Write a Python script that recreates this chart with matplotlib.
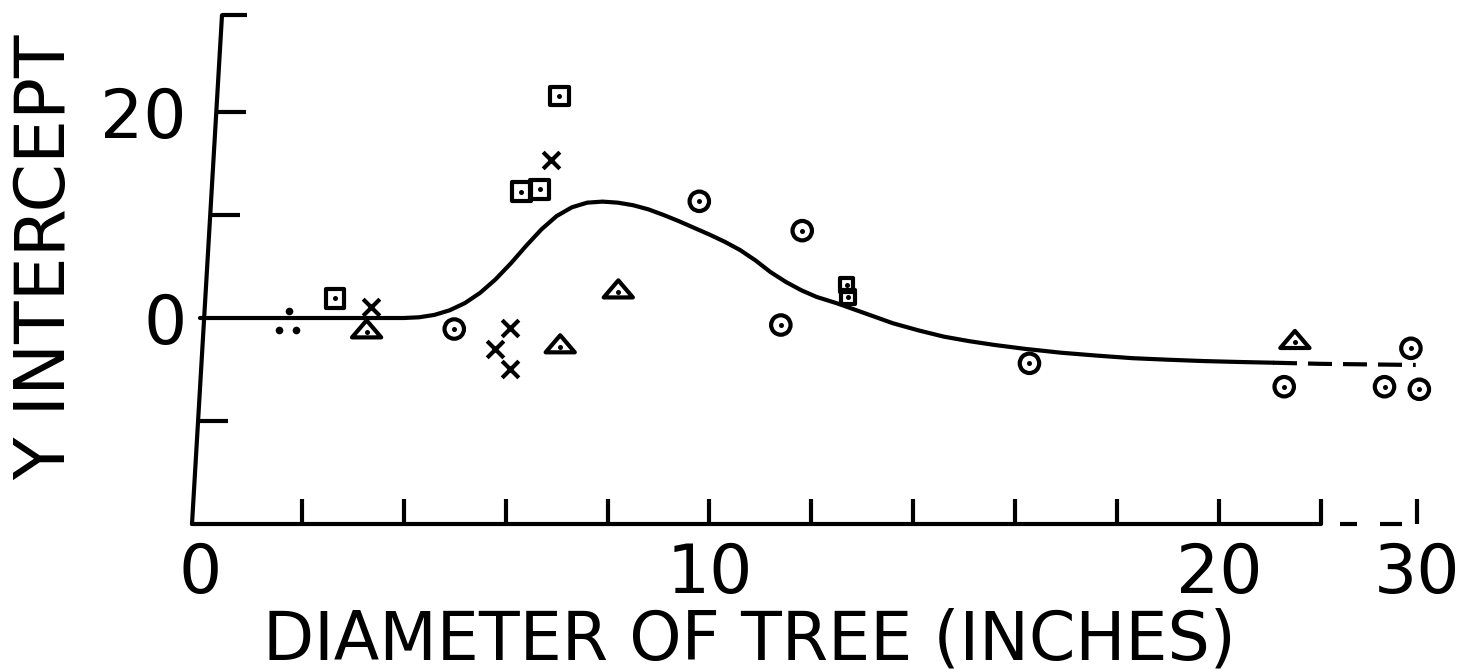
import numpy as np
import matplotlib
matplotlib.use("Agg")
import matplotlib.pyplot as plt
from matplotlib.path import Path
from matplotlib.ticker import FixedLocator, FixedFormatter, NullFormatter

# ---------------------------------------------------------------- data
trend_x = [0, 1, 2, 3, 4.0, 4.3, 4.6, 4.9, 5.2, 5.5, 5.8, 6.1, 6.4, 6.7, 7.0,
           7.3, 7.6, 7.9, 8.2, 8.5, 8.8, 9.1, 9.4, 9.7, 10.0, 10.3, 10.6,
           10.9, 11.2, 11.5, 11.8, 12.1, 12.5, 13.0, 13.6, 14.1, 14.6, 15.1,
           15.6, 16.2, 16.9, 17.6, 18.3, 19.0, 19.7, 20.4, 21.06]
trend_y = [0, 0, 0, 0, 0.0, 0.07, 0.3, 0.75, 1.45, 2.45, 3.75, 5.3, 7.0, 8.6,
           9.9, 10.75, 11.2, 11.3, 11.2, 10.95, 10.55, 10.0, 9.4, 8.75, 8.1,
           7.4, 6.6, 5.6, 4.45, 3.5, 2.7, 2.05, 1.43, 0.55, -0.51, -1.2,
           -1.81, -2.25, -2.62, -3.0, -3.37, -3.65, -3.9, -4.05, -4.18, -4.27,
           -4.34]
trend_ext_x = [21.06, 22.0, 29.9]
trend_ext_y = [-4.34, -4.45, -4.56]

circle_x = [4.99, 9.80, 11.82, 11.40, 16.28, 21.28, 27.3, 29.5, 30.2]
circle_y = [-1.07, 11.33, 8.48, -0.68, -4.40, -6.67, -6.67, -2.94, -6.92]
square_x = [2.65, 7.05, 6.31, 6.67, 12.69, 12.71]
square_y = [1.91, 21.55, 12.27, 12.50, 3.20, 2.00]
triangle_x = [3.27, 7.07, 8.21, 21.49]
triangle_y = [-1.33, -2.78, 2.55, -2.36]
cross_x = [3.35, 6.08, 5.79, 6.08, 6.88]
cross_y = [1.04, -1.00, -3.01, -4.98, 15.34]
dot_x = [1.75, 1.55, 1.88]
dot_y = [0.68, -1.17, -1.17]

x_tick_marks = [2, 4, 6, 8, 10, 12, 14, 16, 18, 20, 22, 30]
x_label_pos = [0, 10, 20, 30]
x_labels = ["0", "10", "20", "30"]
y_tick_marks = [-10, 10, 20]
y_label_pos = [0, 20]
y_labels = ["0", "20"]

# ---------------------------------------------------------------- scale break
BREAK = 22.0
SQUEEZE = 0.2356


def fwd(x):
    x = np.asarray(x, dtype=float)
    return np.where(x <= BREAK, x, BREAK + (x - BREAK) * SQUEEZE)


def inv(u):
    u = np.asarray(u, dtype=float)
    return np.where(u <= BREAK, u, BREAK + (u - BREAK) / SQUEEZE)


plt.rcParams['lines.scale_dashes'] = False
plt.rcParams['font.family'] = ['DejaVu Sans']

W, H = 1482, 672
fig = plt.figure(figsize=(W / 100, H / 100), dpi=100)
left_px, right_px, bottom_px, top_px = 192.0, 1422.8, 524.0, 15.2
ax = fig.add_axes([left_px / W, 1 - bottom_px / H,
                   (right_px - left_px) / W, (bottom_px - top_px) / H])
ax.set_xscale('function', functions=(fwd, inv))
XMIN, UMAX = -0.157, 24.0
YMIN, YMAX = -20.0, 29.4
ax.set_xlim(XMIN, float(inv(UMAX)))
ax.set_ylim(YMIN, YMAX)
px_per_unit = (right_px - left_px) / (UMAX - XMIN)

LW = 3.0
INK = 'black'
FS = 49

for side in ('top', 'right', 'left'):
    ax.spines[side].set_visible(False)
ax.spines['bottom'].set_bounds(XMIN, BREAK)
ax.spines['bottom'].set_linewidth(LW)
ax.spines['bottom'].set_capstyle('round')

# dashed continuation of the x axis past the break
k = 0.72
ax.plot([BREAK, 30], [YMIN, YMIN], color=INK, lw=LW, clip_on=False,
        linestyle=(0, (0.01, 19 * k, 17 * k, 23 * k, 22 * k, 40 * k)),
        solid_capstyle='butt', dash_capstyle='butt')

# x ticks: marks (minor) and labels (major)
ax.xaxis.set_major_locator(FixedLocator(x_label_pos))
ax.xaxis.set_major_formatter(FixedFormatter(x_labels))
ax.xaxis.set_minor_locator(FixedLocator(x_tick_marks))
ax.xaxis.set_minor_formatter(NullFormatter())
ax.xaxis.remove_overlapping_locs = False
ax.tick_params(axis='x', which='major', length=0, pad=12, labelsize=FS)
ax.tick_params(axis='x', which='minor', direction='in', length=18, width=LW)

# slanted hand-ruled y axis
slant = 30.0 / px_per_unit


def axis_x_at(y):
    return XMIN + (y - YMIN) / (YMAX - YMIN) * slant


ax.plot([axis_x_at(YMIN), axis_x_at(YMAX)], [YMIN, YMAX], color=INK, lw=LW,
        clip_on=False, solid_capstyle='round')
tick_len = 30.0 / px_per_unit
for yt in y_tick_marks:
    x0 = axis_x_at(yt)
    ax.plot([x0, x0 + tick_len], [yt, yt], color=INK, lw=LW, clip_on=False,
            solid_capstyle='butt')
x0 = axis_x_at(YMAX)
ax.plot([x0, x0 + 25.0 / px_per_unit], [YMAX, YMAX], color=INK, lw=LW,
        clip_on=False, solid_capstyle='butt')

ax.yaxis.set_major_locator(FixedLocator(y_label_pos))
ax.yaxis.set_major_formatter(FixedFormatter(y_labels))
ax.tick_params(axis='y', which='major', length=0, pad=4, labelsize=FS)
ax.yaxis.set_minor_locator(FixedLocator([]))

# trend curve
ax.plot(trend_x, trend_y, color=INK, lw=LW, solid_capstyle='round',
        solid_joinstyle='round', clip_on=False, zorder=2)
ax.plot(trend_ext_x, trend_ext_y, color=INK, lw=LW, clip_on=False, zorder=2,
        linestyle=(0, (24 * k, 11 * k)), dash_capstyle='butt')

# observations
MEW = 3.0
ring = dict(facecolors='none', edgecolors=INK, linewidths=MEW, clip_on=False,
            zorder=3)
tri = Path([(0, 0.78), (-1, -0.39), (1, -0.39), (0, 0.78)],
           [Path.MOVETO, Path.LINETO, Path.LINETO, Path.CLOSEPOLY])
ax.scatter(circle_x, circle_y, s=14 ** 2, marker='o', **ring)
square_size = [13.5, 13.5, 13.5, 13.5, 10, 10]
ax.scatter(square_x, square_y, s=np.square(square_size), marker='s', **ring)
ax.scatter(triangle_x, triangle_y, s=21 ** 2, marker=tri, **ring)
ax.scatter(cross_x, cross_y, s=12 ** 2, marker='x', color=INK, linewidths=MEW,
           clip_on=False, zorder=3)
ax.scatter(dot_x, dot_y, s=5.5 ** 2, marker='o', color=INK, linewidths=0,
           clip_on=False, zorder=3)
centre_x = circle_x + square_x + triangle_x
centre_y = circle_y + square_y + triangle_y
ax.scatter(centre_x, centre_y, s=3.6 ** 2, marker='o', color=INK,
           linewidths=0, clip_on=False, zorder=4)

# axis titles
ax.set_xlabel("DIAMETER OF TREE (INCHES)", fontsize=48)
ax.xaxis.set_label_coords((749 - left_px) / (right_px - left_px),
                          (bottom_px - 659) / (bottom_px - top_px))
ax.xaxis.label.set_verticalalignment('baseline')
ax.set_ylabel("Y INTERCEPT", fontsize=FS + 1)
ax.yaxis.set_label_coords((46 - left_px) / (right_px - left_px),
                          (bottom_px - 257) / (bottom_px - top_px))
ax.yaxis.label.set_verticalalignment('center')

fig.savefig("out.png", dpi=100, facecolor='white')
